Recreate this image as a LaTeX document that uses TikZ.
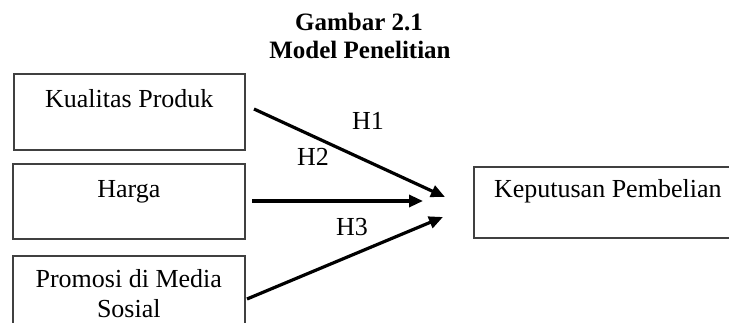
\documentclass[tikz,border=0pt]{standalone}
\usepackage{fontspec}
\setmainfont{Liberation Serif}
\usetikzlibrary{arrows.meta}
\begin{document}
\begin{tikzpicture}[x=1pt,y=-1pt,
  box/.style={draw=black!75, line width=1.6pt, inner xsep=0pt, inner ysep=0pt,
    anchor=north west, align=center, font=\fontsize{26}{30}\selectfont},
  link/.style={line width=3.2pt, -{Triangle[length=14pt,width=12pt]}},
  hyp/.style={anchor=base, inner sep=0pt, font=\fontsize{26}{30}\selectfont},
  heading/.style={anchor=base, inner sep=0pt, font=\fontsize{25}{29}\selectfont\bfseries}]
\useasboundingbox (0,0) rectangle (729,322);
\clip (0,0) rectangle (729,322);

% heading
\node[heading] (title1) at (359,30) {Gambar 2.1};
\node[heading] (title2) at (360,58) {Model Penelitian};

% independent variables
\node[box, minimum width=231pt, text height=34pt, text depth=42pt] (kp) at (13,73) {Kualitas Produk};
\node[box, minimum width=232pt, text height=34pt, text depth=41pt] (hg) at (12,163) {Harga};
\node[box, minimum width=232pt, text height=32pt, text depth=70pt] (pm) at (12,255)
  {\begin{tabular}[t]{@{}c@{}}Promosi di Media\\Sosial\end{tabular}};

% dependent variable
\node[box, minimum width=268pt, text height=31pt, text depth=40pt] (kb) at (473,166) {Keputusan Pembelian};

% arrow end points
\coordinate (s1) at (254,109);
\coordinate (e1) at (445,197);
\coordinate (s2) at (252,201);
\coordinate (e2) at (423,201);
\coordinate (s3) at (247,299);
\coordinate (e3) at (443,217);

\draw[link] (s1) -- (e1);
\draw[link] (s2) -- (e2);
\draw[link] (s3) -- (e3);

% hypothesis labels
\node[hyp] (h1) at (368,129) {H1};
\node[hyp] (h2) at (313,165) {H2};
\node[hyp] (h3) at (352,235) {H3};
\end{tikzpicture}
\end{document}
